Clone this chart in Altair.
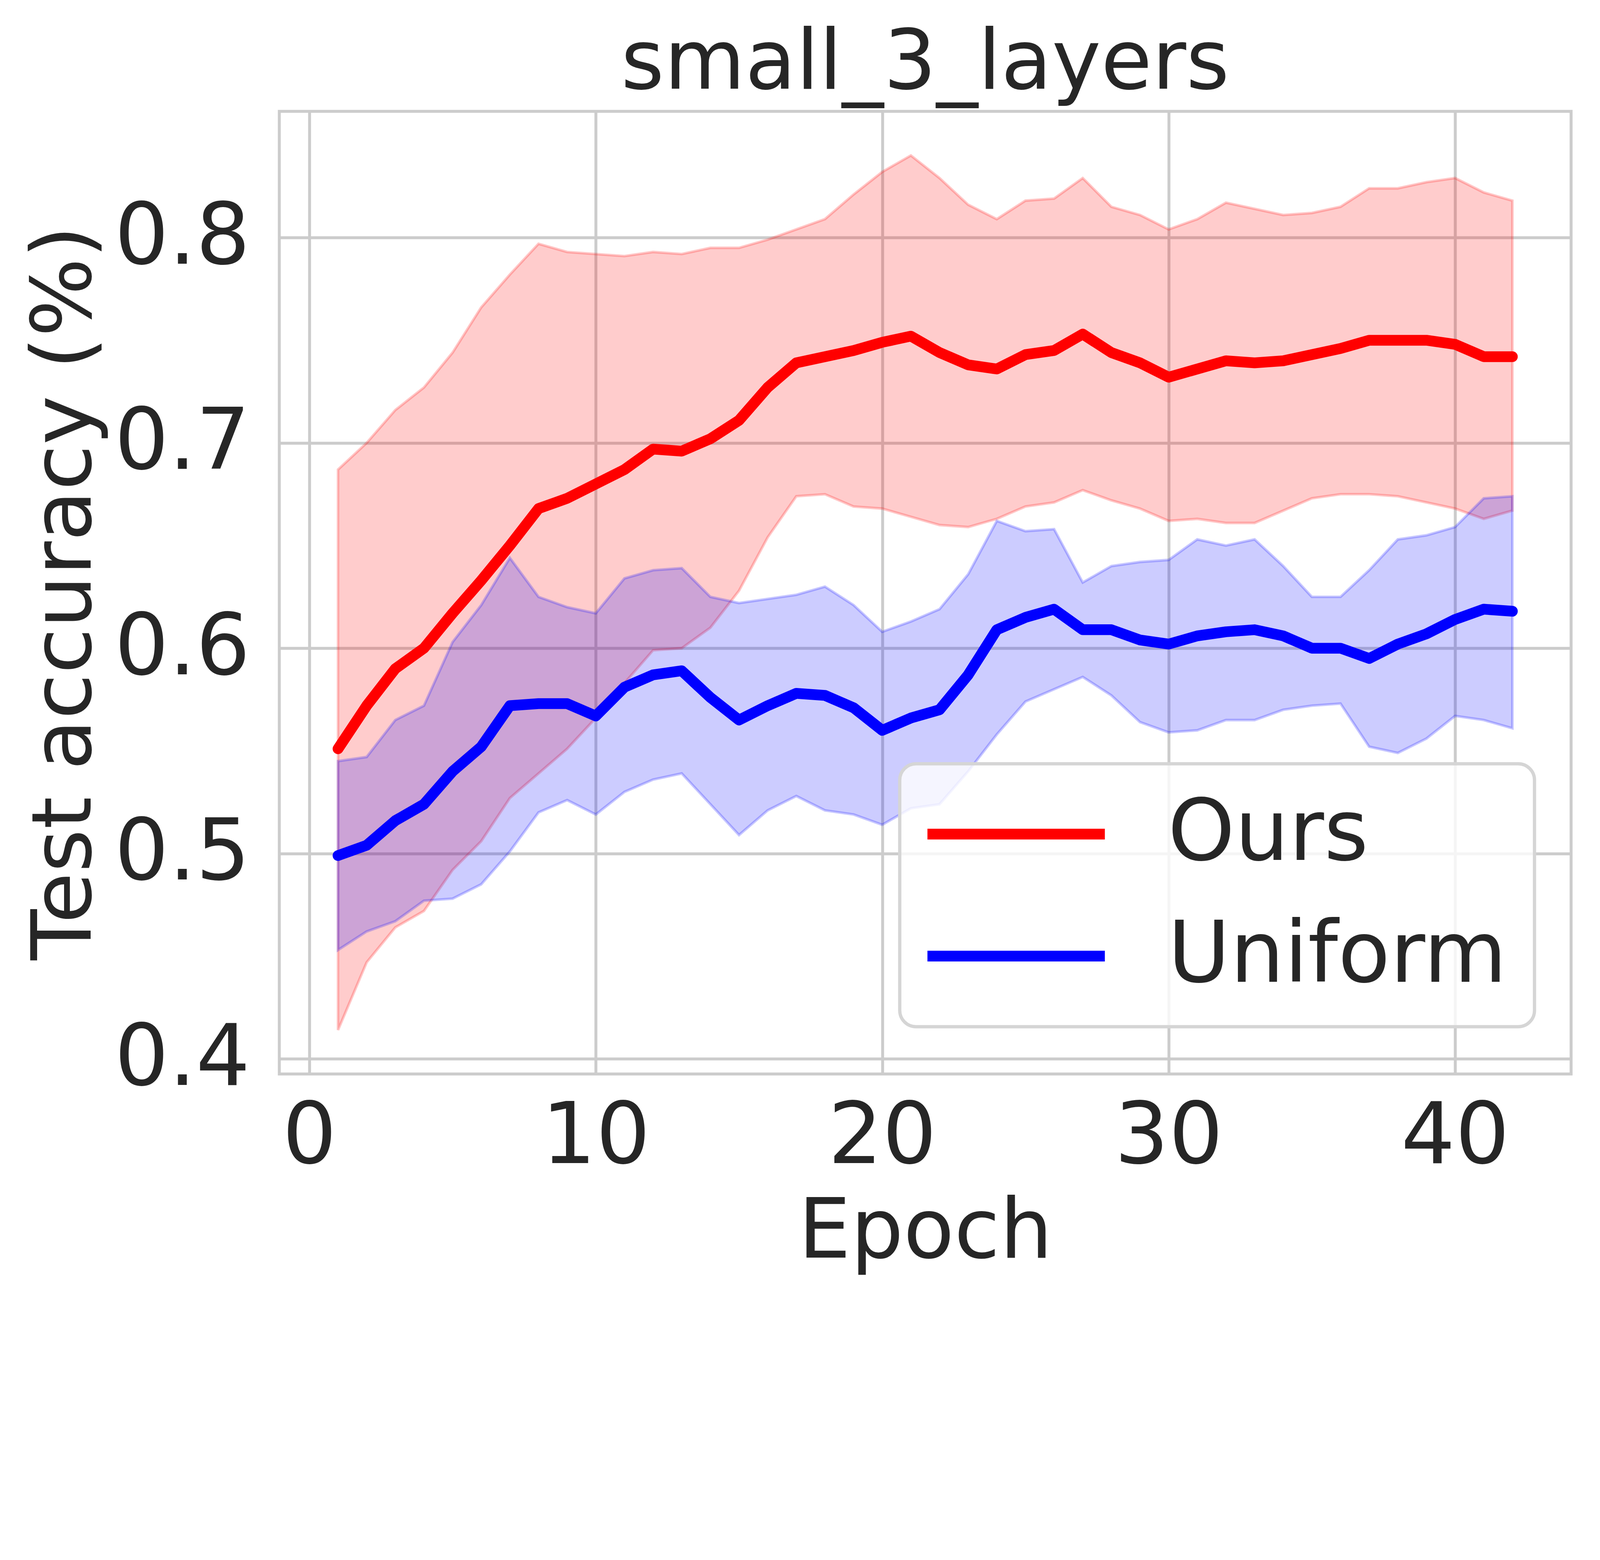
import altair as alt
import pandas as pd

epochs = list(range(1, 43))

ours_mean = [0.551, 0.572, 0.590, 0.600, 0.617, 0.633, 0.650, 0.668, 0.673, 0.680,
             0.687, 0.697, 0.696, 0.702, 0.711, 0.727, 0.739, 0.742, 0.745, 0.749,
             0.752, 0.744, 0.738, 0.736, 0.743, 0.745, 0.753, 0.744, 0.739, 0.732,
             0.736, 0.740, 0.739, 0.740, 0.743, 0.746, 0.750, 0.750, 0.750, 0.748,
             0.742, 0.742]
ours_high = [0.687, 0.700, 0.716, 0.727, 0.744, 0.766, 0.782, 0.797, 0.793, 0.792,
             0.791, 0.793, 0.792, 0.795, 0.795, 0.799, 0.804, 0.809, 0.821, 0.832,
             0.840, 0.829, 0.816, 0.809, 0.818, 0.819, 0.829, 0.815, 0.811, 0.804,
             0.809, 0.817, 0.814, 0.811, 0.812, 0.815, 0.824, 0.824, 0.827, 0.829,
             0.822, 0.818]
ours_low = [0.414, 0.447, 0.464, 0.472, 0.492, 0.506, 0.527, 0.539, 0.551, 0.566,
            0.583, 0.599, 0.600, 0.610, 0.628, 0.654, 0.674, 0.675, 0.669, 0.668,
            0.664, 0.660, 0.659, 0.663, 0.669, 0.671, 0.677, 0.672, 0.668, 0.662,
            0.663, 0.661, 0.661, 0.667, 0.673, 0.675, 0.675, 0.674, 0.671, 0.668,
            0.663, 0.667]

uni_mean = [0.499, 0.504, 0.516, 0.524, 0.540, 0.552, 0.572, 0.573, 0.573, 0.567,
            0.581, 0.587, 0.589, 0.576, 0.565, 0.572, 0.578, 0.577, 0.571, 0.560,
            0.566, 0.570, 0.587, 0.609, 0.615, 0.619, 0.609, 0.609, 0.604, 0.602,
            0.606, 0.608, 0.609, 0.606, 0.600, 0.600, 0.595, 0.602, 0.607, 0.614,
            0.619, 0.618]
uni_high = [0.545, 0.547, 0.565, 0.572, 0.603, 0.621, 0.644, 0.625, 0.620, 0.617,
            0.634, 0.638, 0.639, 0.625, 0.622, 0.624, 0.626, 0.630, 0.621, 0.608,
            0.613, 0.619, 0.636, 0.662, 0.657, 0.658, 0.632, 0.640, 0.642, 0.643,
            0.653, 0.650, 0.653, 0.640, 0.625, 0.625, 0.638, 0.653, 0.655, 0.659,
            0.673, 0.674]
uni_low = [0.453, 0.462, 0.467, 0.477, 0.478, 0.485, 0.501, 0.520, 0.526, 0.519,
           0.530, 0.536, 0.539, 0.524, 0.509, 0.521, 0.528, 0.521, 0.519, 0.514,
           0.522, 0.524, 0.540, 0.558, 0.574, 0.580, 0.586, 0.577, 0.564, 0.559,
           0.560, 0.565, 0.565, 0.570, 0.572, 0.573, 0.552, 0.549, 0.556, 0.567,
           0.565, 0.561]

series_names = ["Ours", "Uniform"]
series_colors = ["#ff0000", "#0000ff"]
x_ticks = [0, 10, 20, 30, 40]
y_ticks = [0.4, 0.5, 0.6, 0.7, 0.8]

rows = []
for name, m, lo, hi in [("Ours", ours_mean, ours_low, ours_high),
                        ("Uniform", uni_mean, uni_low, uni_high)]:
    for e, a, b, c in zip(epochs, m, lo, hi):
        rows.append({"epoch": e, "series": name, "mean": a, "low": b, "high": c})
df = pd.DataFrame(rows)

FONT = "DejaVu Sans"
TXT = "#262626"
K = 1 / 1.2  # page renders the svg at 1.2x; sizes below are given in final pixels * K

xscale = alt.Scale(domain=[-1.05, 44.05], nice=False, zero=False)
yscale = alt.Scale(domain=[0.3926, 0.8615], nice=False, zero=False)
cscale = alt.Scale(domain=series_names, range=series_colors)

xaxis = alt.Axis(values=x_ticks, format="d", title="Epoch", labelPadding=67 * K,
                 titleY=563 * K, titleBaseline="alphabetic", labelFlush=False)
yaxis = alt.Axis(values=y_ticks, format=".1f", title="Test accuracy (%)", labelPadding=90 * K,
                 titleX=-580 * K, titleBaseline="alphabetic")

base = alt.Chart(df)


def band_layer(name, colour):
    return base.transform_filter(alt.datum.series == name).mark_area(
        color=colour, fillOpacity=0.2, stroke=colour, strokeOpacity=0.22, strokeWidth=8 * K,
    ).encode(
        x=alt.X("epoch:Q", scale=xscale, axis=xaxis),
        y=alt.Y("low:Q", scale=yscale, axis=yaxis),
        y2="high:Q",
    )


bands = [band_layer(n, c) for n, c in zip(series_names, series_colors)]

line = base.mark_line(strokeWidth=33 * K, strokeCap="round", strokeJoin="round").encode(
    x=alt.X("epoch:Q", scale=xscale, axis=xaxis),
    y=alt.Y("mean:Q", scale=yscale, axis=yaxis),
    color=alt.Color(
        "series:N", scale=cscale,
        legend=alt.Legend(
            title=None, orient="none", legendX=1906 * K, legendY=2004 * K, direction="vertical",
            symbolType="M-4,0H4", symbolSize=(545 * K / 4) ** 2, symbolStrokeWidth=33 * K,
            symbolOffset=118, labelOffset=279, labelFontSize=262 * K, labelFont=FONT,
            labelColor=TXT, labelLimit=3000, rowPadding=112 * K, padding=85 * K,
            fillColor="rgba(255,255,255,0.8)", strokeColor="#d5d5d5", cornerRadius=50 * K,
        ),
    ),
)

chart = alt.layer(*bands, line).properties(
    width=3307,
    height=2464,
    title=alt.TitleParams(text="small_3_layers", fontSize=255 * K, font=FONT, fontWeight="normal",
                          color=TXT, offset=-154, baseline="alphabetic", anchor="middle",
                          frame="group"),
    padding={"left": 707, "top": 277, "right": 58, "bottom": 573},
    autosize=alt.AutoSizeParams(type="none"),
    background="white",
).configure_axis(
    grid=True, gridColor="#cccccc", gridWidth=9 * K, domain=False, ticks=False, tickSize=0,
    labelFont=FONT, labelFontSize=262 * K, labelColor=TXT, labelLimit=0,
    titleFont=FONT, titleFontSize=255 * K, titleColor=TXT, titleFontWeight="normal", titleLimit=0,
).configure_view(
    stroke="#cccccc", strokeWidth=9 * K,
).configure_legend(
    strokeWidth=10 * K,
)

chart.save("out.html", embed_options={"renderer": "svg", "actions": False})
